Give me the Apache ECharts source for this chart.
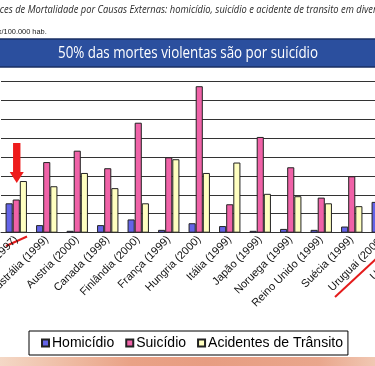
<!DOCTYPE html>
<html>
<head>
<meta charset="utf-8">
<script src="https://cdn.jsdelivr.net/npm/echarts@6/dist/echarts.min.js"></script>
<style>html,body{margin:0;padding:0;background:#fff;}#c{width:375px;height:366px;}</style>
</head>
<body>
<div id="c"></div>
<script>
// ---- data (taxa por 100.000 hab.) ----
const categories = ['Argentina (1997)','Austrália (1999)','Austria (2000)','Canada (1998)','Finlândia (2000)','França (1999)','Hungria (2000)','Itália (1999)','Japão (1999)','Noruega (1999)','Reino Unido (1999)','Suécia (1999)','Uruguai (2000)','USA (1999)'];
const homicidio = [6.2, 1.6, 0.4, 1.6, 2.8, 0.6, 2.0, 1.4, 0.4, 0.8, 0.6, 1.3, 6.5, null];
const suicidio  = [7.0, 14.9, 17.3, 13.6, 23.2, 15.9, 30.9, 6.0, 20.2, 13.8, 7.4, 11.9, null, null];
const transito  = [10.9, 9.8, 12.6, 9.4, 6.2, 15.5, 12.6, 14.8, 8.2, 7.7, 6.2, 5.6, null, null];
const seriesNames = ['Homicídio','Suicídio','Acidentes de Trânsito'];
const yTicks = {min: 0, max: 32, interval: 4};

const topTitle = 'Índices de Mortalidade por Causas Externas: homicídio, suicídio e acidente de transito em diversos países';
const unitText = 'x/100.000 hab.';
const bannerText = '50% das mortes violentas são por suicídio';

const ctx = document.createElement('canvas').getContext('2d');
function mw(t, font){ ctx.font = font; return ctx.measureText(t).width; }

// top italic line
const tFam = '"Liberation Sans Narrow", "Open Sans"';
const tFont = 'italic 11.5px ' + tFam;
const visible = 'es de Mortalidade por Causas Externas: homicídio, suicídio e acidente de transito em di';
const tScale = 360 / mw(visible, tFont);
const tX = 4 - tScale * mw('Índic', tFont);
// unit text
const uFont = '7.4px "Liberation Sans"';
const uX = 1.5 - mw('x', uFont);
// banner
const bFont = '16px "Open Sans"';
const bScale = 260 / mw(bannerText, bFont);

const chart = echarts.init(document.getElementById('c'), null, {renderer: 'canvas'});
const barStyle = (c) => ({color: c, borderColor: '#222', borderWidth: 1});
const colors = ['#6464e8', '#f062a8', '#ffffc0'];

const option = {
  animation: false,
  backgroundColor: '#fff',
  grid: {left: 1, top: 81, width: 427, height: 151.7, containLabel: false, outerBoundsMode: 'none'},
  legend: {
    left: 29, top: 331,
    data: seriesNames,
    icon: 'rect', itemWidth: 7, itemHeight: 7, itemGap: 11,
    padding: [5, 5, 5, 12],
    borderColor: '#000', borderWidth: 1, backgroundColor: '#fff',
    textStyle: {fontFamily: '"Liberation Sans", Arial, sans-serif', fontSize: 14, color: '#000', padding: [0,0,0,-2]}
  },
  xAxis: {
    type: 'category', data: categories,
    axisLine: {show: true, lineStyle: {color: '#333', width: 1}},
    axisTick: {show: false},
    axisLabel: {interval: 0, rotate: 45, margin: 5, fontSize: 11, color: '#111', fontFamily: '"Liberation Sans", Arial, sans-serif'}
  },
  yAxis: {
    type: 'value', min: yTicks.min, max: yTicks.max, interval: yTicks.interval,
    axisLine: {show: false}, axisTick: {show: false}, axisLabel: {show: false},
    splitLine: {show: true, lineStyle: {color: '#333', width: 1}}
  },
  series: [
    {name: seriesNames[0], type: 'bar', data: homicidio, itemStyle: barStyle(colors[0]), barGap: '0%', barCategoryGap: '30%'},
    {name: seriesNames[1], type: 'bar', data: suicidio, itemStyle: barStyle(colors[1]), barGap: '0%', barCategoryGap: '30%'},
    {name: seriesNames[2], type: 'bar', data: transito, itemStyle: barStyle(colors[2]), barGap: '0%', barCategoryGap: '30%'}
  ]
};
chart.setOption(option);

// annotations
const p = chart.convertToPixel({xAxisIndex: 0, yAxisIndex: 0}, [0, transito[0]]);
const ax = p[0] + 0.5, tip = p[1] + 2;
chart.setOption({
  graphic: [
    {type: 'text', x: tX, y: 10, scaleX: tScale, style: {text: topTitle, fontStyle: 'italic', fontSize: 11.5, fontFamily: tFam, fill: '#2b2b2b', align: 'left', verticalAlign: 'middle'}},
    {type: 'text', x: uX, y: 32, style: {text: unitText, fontSize: 7.4, fontFamily: '"Liberation Sans"', fill: '#222', align: 'left', verticalAlign: 'middle'}},
    {type: 'rect', shape: {x: -2, y: 39, width: 380, height: 28}, style: {fill: '#2b4f9e', stroke: '#1a2f63', lineWidth: 1.5}},
    {type: 'text', x: 188, y: 53, scaleX: bScale, style: {text: bannerText, fontSize: 16, fontFamily: '"Open Sans"', fill: '#fff', align: 'center', verticalAlign: 'middle'}},
    {type: 'rect', shape: {x: ax - 3.7, y: tip - 40, width: 7.4, height: 30}, style: {fill: '#ee1c1c'}},
    {type: 'polygon', shape: {points: [[ax - 7, tip - 11], [ax + 7, tip - 11], [ax, tip]]}, style: {fill: '#ee1c1c'}},
    {type: 'line', shape: {x1: 6, y1: 246, x2: 27, y2: 236.5}, style: {stroke: '#e41b1b', lineWidth: 2}},
    {type: 'line', shape: {x1: 335, y1: 297, x2: 378, y2: 257}, style: {stroke: '#e41b1b', lineWidth: 2}},
    {type: 'rect', shape: {x: 0, y: 357, width: 375, height: 9}, style: {fill: new echarts.graphic.LinearGradient(0, 0, 1, 0, [
      {offset: 0, color: '#f4d8c6'}, {offset: 0.2, color: '#eeb9a0'}, {offset: 0.35, color: '#e9a286'},
      {offset: 0.55, color: '#e79d82'}, {offset: 0.85, color: '#e9a68c'}, {offset: 1, color: '#f1c8b3'}])}}
  ]
});
</script>
</body>
</html>
